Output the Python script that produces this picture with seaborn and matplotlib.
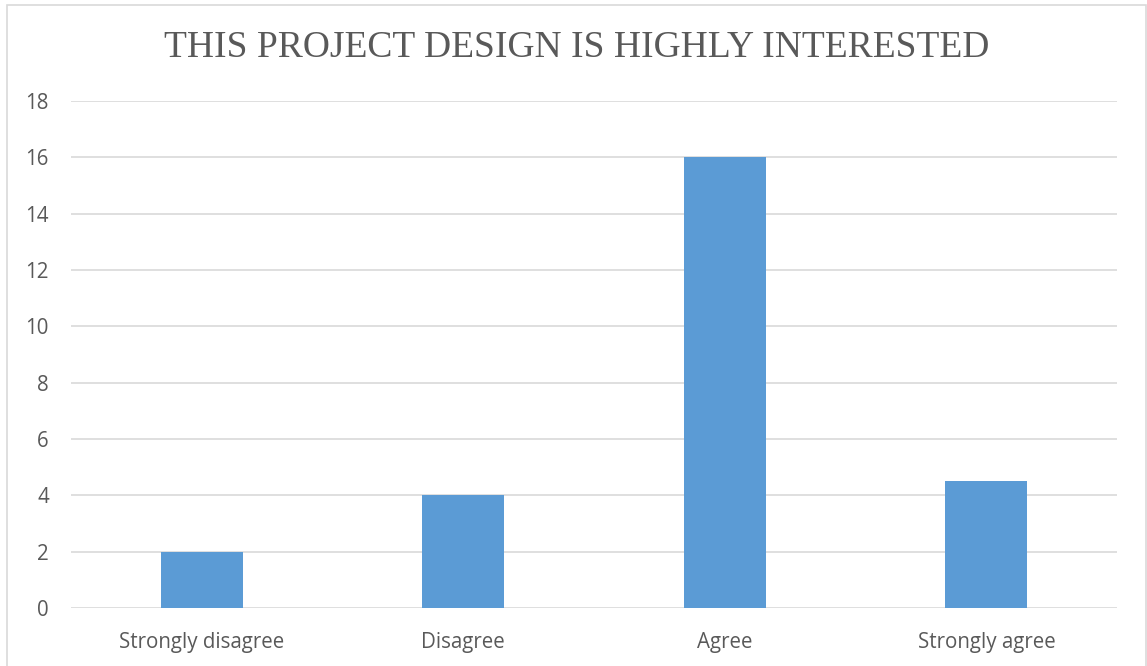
import matplotlib
matplotlib.use("Agg")
import matplotlib.pyplot as plt
from matplotlib.patches import Rectangle
import seaborn as sns
import pandas as pd

categories = ["Strongly disagree", "Disagree", "Agree", "Strongly agree"]
counts = [2, 4, 16, 4.5]
y_ticks = [0, 2, 4, 6, 8, 10, 12, 14, 16, 18]
title = "THIS PROJECT DESIGN IS HIGHLY INTERESTED"

df = pd.DataFrame({"response": categories, "count": counts})

sns.set_style("white")
plt.rcParams["font.family"] = ["Open Sans", "DejaVu Sans"]

fig = plt.figure(figsize=(11.47, 6.66), dpi=100)
ax = fig.add_axes([0.0619, 0.0871, 0.974 - 0.0619, 0.8483 - 0.0871])

sns.barplot(data=df, x="response", y="count", color="#5B9BD5", saturation=1,
            width=0.313, linewidth=0, ax=ax, zorder=3)

ax.set_xlim(-0.5, 3.5)
ax.set_ylim(0, 18)
ax.set_yticks(y_ticks)
ax.yaxis.grid(True, color="#D9D9D9", linewidth=1.2, zorder=0)
ax.set_axisbelow(True)
for s in ax.spines.values():
    s.set_visible(False)
ax.tick_params(axis="both", length=0, labelsize=14.8, labelcolor="#595959")
ax.tick_params(axis="y", pad=16)
ax.tick_params(axis="x", pad=17)
ax.set_xlabel("")
ax.set_ylabel("")

fig.text(0.503, 0.929, title, ha="center", va="center",
         fontfamily="Liberation Serif", fontsize=27, color="#595959")

# chart border
fig.patches.append(Rectangle((7 / 1147, -0.01), (1146 - 7) / 1147, 1 - 5 / 666 + 0.01,
                             transform=fig.transFigure, fill=False,
                             edgecolor="#D9D9D9", linewidth=1.2))

fig.savefig("out.png", dpi=100)
